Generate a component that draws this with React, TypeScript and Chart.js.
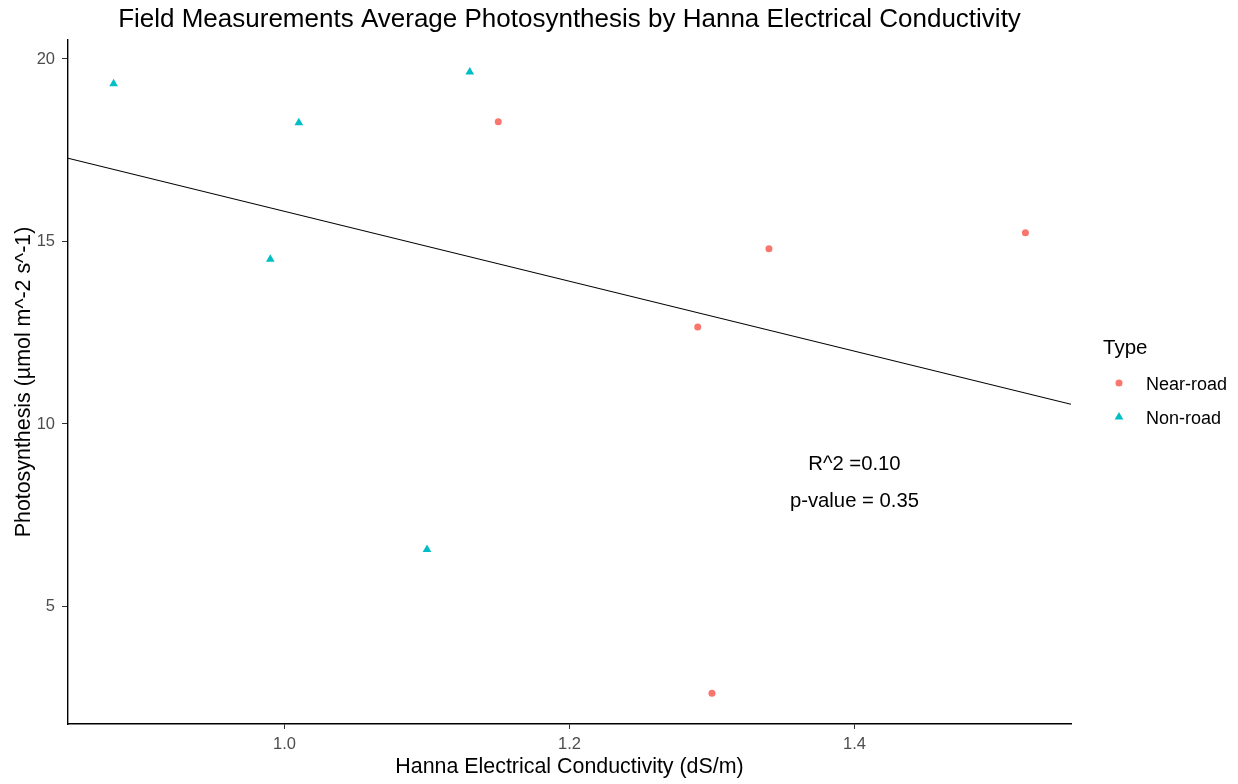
import React, { useEffect, useRef } from "react";
import { Chart, registerables } from "chart.js";

Chart.register(...registerables);

const FONT = "'Liberation Sans', Arial, sans-serif";

const TITLE = "Field Measurements Average Photosynthesis by Hanna Electrical Conductivity";
const X_TITLE = "Hanna Electrical Conductivity (dS/m)";
const Y_TITLE = "Photosynthesis (µmol m^-2 s^-1)";
const LEGEND_TITLE = "Type";
const SERIES_NAMES = ["Near-road", "Non-road"];
const SERIES_COLORS = ["#F8766D", "#00BFC4"];

const nearRoadX = [1.15, 1.34, 1.52, 1.29, 1.3];
const nearRoadY = [18.28, 14.8, 15.24, 12.66, 2.62];
const nonRoadX = [0.88, 1.01, 1.13, 0.99, 1.1];
const nonRoadY = [19.32, 18.25, 19.64, 14.51, 6.56];

const fitX = [0.848, 1.552];
const fitY = [17.28, 10.54];

const xTicks = [1.0, 1.2, 1.4];
const yTicks = [5, 10, 15, 20];
const xRange = [0.848, 1.552];
const yRange = [1.78, 20.52];

const annotationLines = ["R^2 =0.10", "p-value = 0.35"];
const annotationX = 1.4;
const annotationY = [8.88, 7.88];

const overlayPlugin = {
  id: "overlay",
  afterDraw(chart: any) {
    const ctx = chart.ctx as CanvasRenderingContext2D;
    const area = chart.chartArea;
    const xs = chart.scales.x;
    const ys = chart.scales.y;
    ctx.save();
    // title
    ctx.fillStyle = "#000";
    ctx.font = `26px ${FONT}`;
    ctx.textAlign = "center";
    ctx.textBaseline = "alphabetic";
    ctx.fillText(TITLE, (area.left + area.right) / 2, 26.7);
    // annotation
    ctx.font = `20.3px ${FONT}`;
    ctx.textBaseline = "middle";
    annotationLines.forEach((t, i) => {
      ctx.fillText(t, xs.getPixelForValue(annotationX), ys.getPixelForValue(annotationY[i]));
    });
    // legend
    ctx.textAlign = "left";
    ctx.textBaseline = "alphabetic";
    ctx.font = `20.5px ${FONT}`;
    ctx.fillText(LEGEND_TITLE, 1103, 354.3);
    ctx.font = `18px ${FONT}`;
    const itemY = [383, 417];
    SERIES_NAMES.forEach((name, i) => {
      ctx.fillStyle = SERIES_COLORS[i];
      const cx = 1119;
      const cy = itemY[i];
      ctx.beginPath();
      if (i === 0) {
        ctx.arc(cx, cy, 3.5, 0, Math.PI * 2);
      } else {
        const r = 5;
        for (let k = 0; k < 3; k++) {
          const a = (k * 2 * Math.PI) / 3;
          const px = cx + Math.sin(a) * r;
          const py = cy - Math.cos(a) * r;
          if (k === 0) ctx.moveTo(px, py);
          else ctx.lineTo(px, py);
        }
        ctx.closePath();
      }
      ctx.fill();
      ctx.fillStyle = "#000";
      ctx.fillText(name, 1146, cy + 7.2);
    });
    ctx.restore();
  },
};

export default function App() {
  const canvasRef = useRef<HTMLCanvasElement | null>(null);

  useEffect(() => {
    const canvas = canvasRef.current;
    if (!canvas) return;
    const chart = new Chart(canvas, {
      type: "scatter",
      data: {
        datasets: [
          {
            label: "fit",
            data: fitX.map((x, i) => ({ x, y: fitY[i] })),
            showLine: true,
            borderColor: "#000",
            borderWidth: 1.1,
            pointRadius: 0,
            fill: false,
            order: 0,
          } as any,
          {
            label: SERIES_NAMES[0],
            data: nearRoadX.map((x, i) => ({ x, y: nearRoadY[i] })),
            backgroundColor: SERIES_COLORS[0],
            borderWidth: 0,
            pointStyle: "circle",
            pointRadius: 3.5,
            order: 1,
          },
          {
            label: SERIES_NAMES[1],
            data: nonRoadX.map((x, i) => ({ x, y: nonRoadY[i] })),
            backgroundColor: SERIES_COLORS[1],
            borderWidth: 0,
            pointStyle: "triangle",
            pointRadius: 5,
            order: 1,
          },
        ],
      },
      options: {
        responsive: false,
        animation: false,
        devicePixelRatio: 1,
        layout: { padding: { left: 0, top: 40, right: 167, bottom: 0 } },
        plugins: {
          legend: { display: false },
          title: { display: false },
          tooltip: { enabled: false },
        },
        scales: {
          x: {
            type: "linear",
            min: xRange[0],
            max: xRange[1],
            afterBuildTicks: (scale: any) => {
              scale.ticks = xTicks.map((v) => ({ value: v }));
            },
            afterFit: (scale: any) => {
              scale.height = 60;
            },
            grid: {
              display: true,
              drawOnChartArea: false,
              drawTicks: true,
              tickLength: 5,
              color: "#333333",
              lineWidth: 1,
            },
            border: { display: true, color: "#000", width: 1.4 },
            ticks: {
              color: "#4D4D4D",
              font: { family: FONT, size: 16.5 },
              padding: 6,
              callback: (v: any) => Number(v).toFixed(1),
            },
            title: {
              display: true,
              text: X_TITLE,
              color: "#000",
              font: { family: FONT, size: 21.4 },
              padding: { top: 0, bottom: 4 },
            },
          },
          y: {
            type: "linear",
            min: yRange[0],
            max: yRange[1],
            afterBuildTicks: (scale: any) => {
              scale.ticks = yTicks.map((v) => ({ value: v }));
            },
            afterFit: (scale: any) => {
              scale.width = 68;
            },
            grid: {
              display: true,
              drawOnChartArea: false,
              drawTicks: true,
              tickLength: 6,
              color: "#333333",
              lineWidth: 1,
            },
            border: { display: true, color: "#000", width: 1.4 },
            ticks: {
              color: "#4D4D4D",
              font: { family: FONT, size: 16.5 },
              padding: 7,
              callback: (v: any) => String(Math.round(Number(v))),
            },
            title: {
              display: true,
              text: Y_TITLE,
              color: "#000",
              font: { family: FONT, size: 21.4 },
              padding: { top: 11, bottom: 0 },
            },
          },
        },
      },
      plugins: [overlayPlugin],
    });
    return () => chart.destroy();
  }, []);

  return (
    <div style={{ position: "fixed", left: 0, top: 0, width: 1238, height: 784, background: "#fff" }}>
      <canvas ref={canvasRef} width={1238} height={784} />
    </div>
  );
}
